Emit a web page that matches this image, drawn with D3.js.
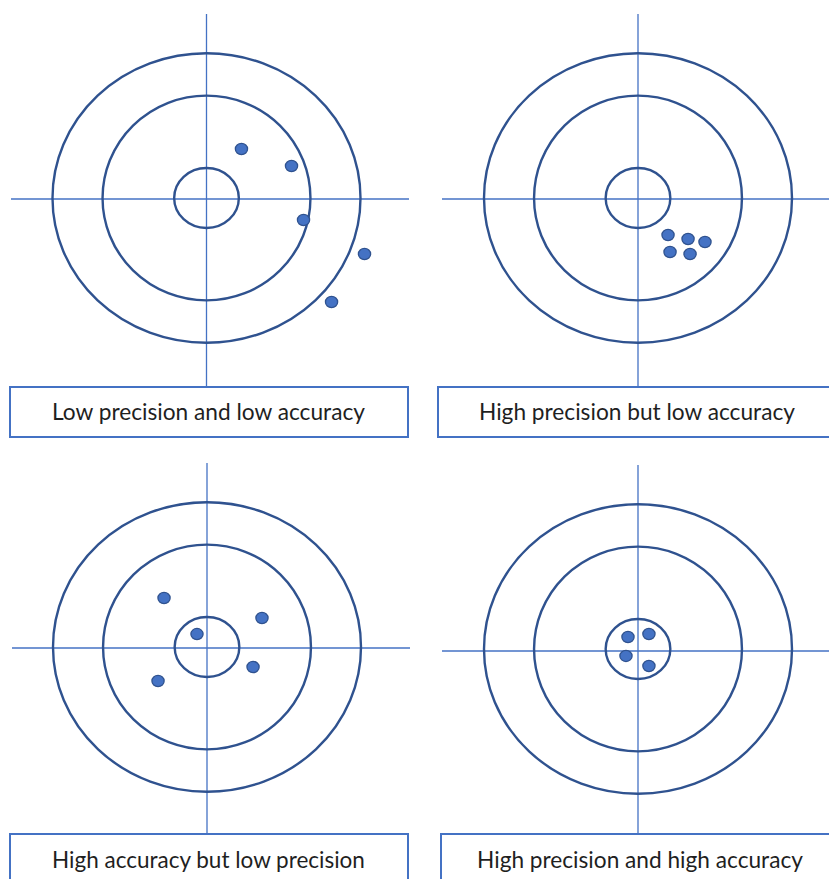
<!DOCTYPE html>
<html><head><meta charset="utf-8">
<script src="https://cdn.jsdelivr.net/npm/d3@7"></script>
<style>html,body{margin:0;padding:0;background:#fff;overflow:hidden}</style>
</head><body>
<svg id="c" width="829" height="879"></svg>
<script>
// ---- data ----
const panelLabels = [
  "Low precision and low accuracy",
  "High precision but low accuracy",
  "High accuracy but low precision",
  "High precision and high accuracy"
];
// ring radii in target units (rx, ry)
const ringRx = [1.0, 0.675, 0.21];
const ringRy = [0.94, 0.665, 0.195];
// shots per panel, in target units (x right, y up)
const shotsP1X = [0.227, 0.552, 0.63, 1.026, 0.812];
const shotsP1Y = [0.318, 0.208, -0.143, -0.364, -0.675];
const shotsP2X = [0.195, 0.325, 0.435, 0.208, 0.338];
const shotsP2Y = [-0.24, -0.266, -0.286, -0.351, -0.364];
const shotsP3X = [-0.279, 0.357, -0.065, 0.299, -0.318];
const shotsP3Y = [0.318, 0.188, 0.084, -0.13, -0.221];
const shotsP4X = [-0.065, 0.071, -0.078, 0.071];
const shotsP4Y = [0.078, 0.097, -0.045, -0.11];

const shotsX = [shotsP1X, shotsP2X, shotsP3X, shotsP4X];
const shotsY = [shotsP1Y, shotsP2Y, shotsP3Y, shotsP4Y];

// ---- layout ----
const layout = [
  {cx:206.5, cy:198, hy:199, vTop:14, hL:11, hR:409, box:[10,387,398,50], tx:208.5, ty:420, tw:313},
  {cx:638, cy:198, hy:199, vTop:14, hL:442, hR:835, box:[438,387,400,50], tx:637, ty:420, tw:316},
  {cx:207, cy:647, hy:648, vTop:463, hL:12, hR:410, box:[10,834,398,60], tx:208.5, ty:868, tw:313},
  {cx:638, cy:649, hy:651, vTop:465, hL:442, hR:835, box:[441,834,400,60], tx:640, ty:868, tw:326}
];
const R = 154;
const ringColor = "#2F528F", lineColor = "#4472C4", dotFill = "#4472C4";

const svg = d3.select("#c");

layout.forEach((L, i) => {
  const g = svg.append("g");
  const x = d3.scaleLinear().domain([-1, 1]).range([L.cx - R, L.cx + R]);
  const y = d3.scaleLinear().domain([-1, 1]).range([L.cy + R, L.cy - R]);
  const k = x(1) - x(0);

  // crosshair
  g.append("line").attr("x1", x(0)).attr("x2", x(0)).attr("y1", L.vTop).attr("y2", L.box[1])
    .attr("stroke", lineColor).attr("stroke-width", 1.3);
  g.append("line").attr("x1", L.hL).attr("x2", L.hR).attr("y1", L.hy).attr("y2", L.hy)
    .attr("stroke", lineColor).attr("stroke-width", 1.3);

  // rings
  g.selectAll("ellipse.ring").data(d3.range(ringRx.length)).join("ellipse")
    .attr("class", "ring")
    .attr("cx", x(0)).attr("cy", y(0))
    .attr("rx", j => ringRx[j] * k).attr("ry", j => ringRy[j] * k)
    .attr("fill", "none").attr("stroke", ringColor).attr("stroke-width", 2.4);

  // shots
  const pts = shotsX[i].map((v, j) => ({x: v, y: shotsY[i][j]}));
  g.selectAll("ellipse.shot").data(pts).join("ellipse")
    .attr("class", "shot")
    .attr("cx", d => x(d.x)).attr("cy", d => y(d.y))
    .attr("rx", 6.1).attr("ry", 5.6)
    .attr("fill", dotFill).attr("stroke", ringColor).attr("stroke-width", 1.3);

  // label box
  g.append("rect").attr("x", L.box[0]).attr("y", L.box[1]).attr("width", L.box[2]).attr("height", L.box[3])
    .attr("fill", "#fff").attr("stroke", lineColor).attr("stroke-width", 2);
  const t = g.append("text").attr("x", L.tx).attr("y", L.ty).attr("text-anchor", "middle")
    .attr("font-family", "Lato, 'Open Sans', sans-serif").attr("font-size", 21)
    .attr("fill", "#1f1f1f").text(panelLabels[i]);
  const w = t.node().getComputedTextLength();
  if (w > 0) t.attr("font-size", (21 * L.tw / w).toFixed(2));
});
</script>
</body></html>
